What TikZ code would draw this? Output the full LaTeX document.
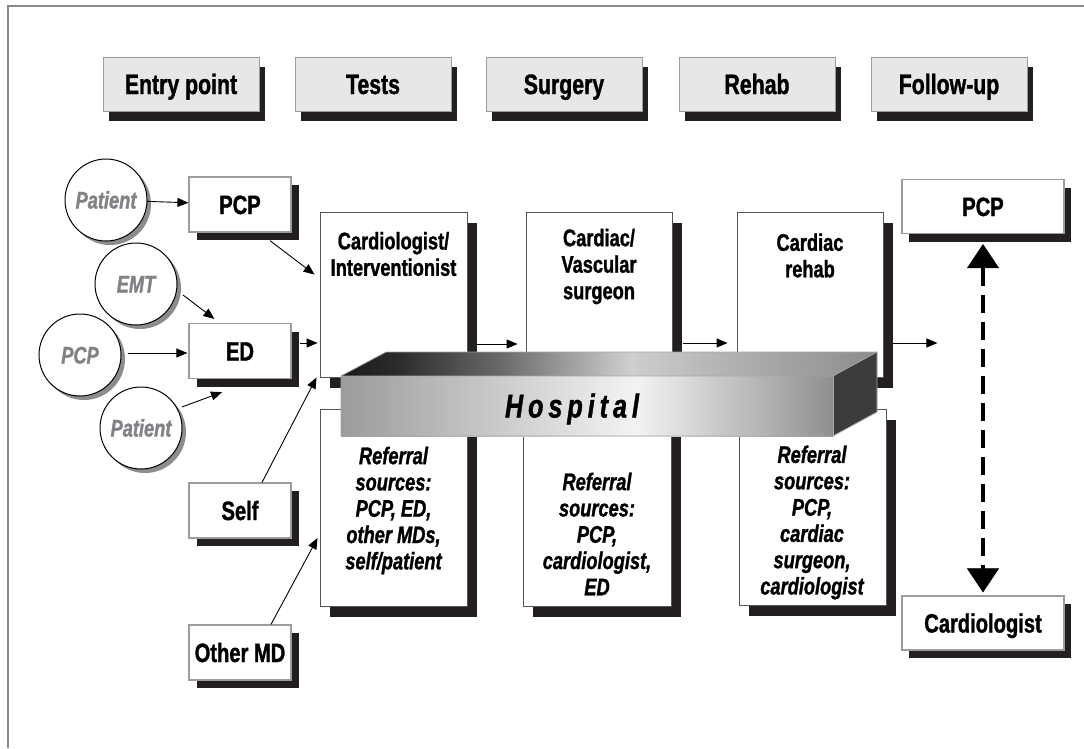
\documentclass[tikz,border=0pt]{standalone}
\usepackage{fontspec}
\setmainfont{Liberation Sans}[FakeStretch=0.76, BoldFeatures={FakeBold=1.2}, BoldItalicFeatures={FakeBold=1.2}]
\usetikzlibrary{arrows.meta,shadows,calc}
\definecolor{shadowc}{HTML}{231F20}
\definecolor{hdrfill}{HTML}{E6E7E8}
\definecolor{bordgray}{HTML}{9C9C9C}
\definecolor{boxline}{HTML}{555555}
\definecolor{txtgray}{HTML}{808285}
\definecolor{circshadow}{HTML}{8C8C8C}
\definecolor{framec}{HTML}{8A8A8A}
\definecolor{frA}{HTML}{9B9B9B}
\definecolor{frB}{HTML}{C8C8C8}
\definecolor{frC}{HTML}{F3F3F3}
\definecolor{frD}{HTML}{8F8F8F}
\definecolor{tpA}{HTML}{1A1A1A}
\definecolor{tpB}{HTML}{2A2A2A}
\definecolor{tpC}{HTML}{6A6A6A}
\definecolor{tpD}{HTML}{CFCFCF}
\definecolor{tpE}{HTML}{B5B5B5}
\definecolor{tpF}{HTML}{8C8C8C}
\definecolor{sideC}{HTML}{3C3C3C}
\pgfdeclarehorizontalshading{hfront}{100bp}{color(0bp)=(frA); color(25bp)=(frA); color(40bp)=(frB); color(55bp)=(frC); color(75bp)=(frD); color(100bp)=(frD)}
\pgfdeclarehorizontalshading{htop}{100bp}{color(0bp)=(tpA); color(25bp)=(tpA); color(30bp)=(tpB); color(40bp)=(tpC); color(52bp)=(tpD); color(60bp)=(tpE); color(75bp)=(tpF); color(100bp)=(tpF)}
\begin{document}
\begin{tikzpicture}[x=1pt,y=1pt,
  hdrbox/.style={draw=bordgray, line width=1pt, fill=hdrfill, minimum width=156pt, minimum height=54pt, inner sep=0pt,
    text height=20pt, text depth=0pt,
    font=\bfseries\fontsize{28}{32}\selectfont,
    general shadow={fill=shadowc, shadow xshift=6pt, shadow yshift=-10pt}},
  lbox/.style={draw=bordgray, line width=1.2pt, fill=white, minimum width=102pt, minimum height=55pt, inner sep=0pt,
    text height=19pt, text depth=0pt,
    font=\bfseries\fontsize{26.5}{30}\selectfont,
    general shadow={fill=shadowc, shadow xshift=8pt, shadow yshift=-8pt}},
  rbox/.style={draw=bordgray, line width=1.2pt, fill=white, minimum width=162pt, minimum height=54pt, inner sep=0pt,
    text height=19pt, text depth=0pt,
    font=\bfseries\fontsize{26.5}{30}\selectfont,
    general shadow={fill=shadowc, shadow xshift=7pt, shadow yshift=-8pt}},
  circ/.style={circle, draw=black, line width=1pt, fill=white, minimum size=82pt, inner sep=0pt, text=txtgray,
    text height=17pt, text depth=0pt,
    font=\bfseries\itshape\fontsize{24}{28}\selectfont,
    general shadow={fill=circshadow, shadow xshift=4pt, shadow yshift=-4pt}},
  ibox/.style={draw=boxline, line width=0.9pt, fill=white, inner sep=0pt,
    general shadow={fill=shadowc, shadow xshift=10pt, shadow yshift=-11pt}},
  itext/.style={align=center, inner sep=0pt, font=\bfseries\fontsize{24}{26.5}\selectfont},
  rtext/.style={align=center, inner sep=0pt, font=\bfseries\itshape\fontsize{24}{26.3}\selectfont},
  arr/.style={line width=0.9pt, -{Triangle[length=11pt,width=9pt]}},
  darr/.style={line width=4pt, dash pattern=on 18pt off 9pt,
    {Triangle[length=24pt,width=32pt,line width=0.5pt]}-{Triangle[length=24pt,width=32pt,line width=0.5pt]}},
  hedge/.style={draw=gray!70, line width=0.8pt, line join=round}
]
\useasboundingbox (0,0) rectangle (1084,-748);
% frame
\draw[framec, line width=1.2pt] (8,-748) -- (8,-6) -- (1084,-6);

% header row
\node[hdrbox] (h1) at (181,-84) {Entry point};
\node[hdrbox] (h2) at (373,-84) {Tests};
\node[hdrbox] (h3) at (564,-84) {Surgery};
\node[hdrbox] (h4) at (757,-84) {Rehab};
\node[hdrbox] (h5) at (949,-84) {Follow-up};

% entry circles
\node[circ] (c1) at (106,-200) {Patient};
\node[circ] (c2) at (136,-284) {EMT};
\node[circ] (c3) at (80,-355) {PCP};
\node[circ] (c4) at (141,-428) {Patient};

% entry boxes
\node[lbox] (pcpL) at (240,-204.5) {PCP};
\node[lbox] (ed) at (240,-351) {ED};
\node[lbox] (self) at (240,-510.5) {Self};
\node[lbox] (omd) at (240,-652.5) {Other MD};

% follow-up boxes
\node[rbox] (pcpR) at (983,-206.5) {PCP};
\node[rbox] (cardR) at (983,-623) {Cardiologist};

% upper stage boxes
\node[ibox, minimum width=147pt, minimum height=165pt] (cardio) at (393.5,-294.5) {};
\node[ibox, minimum width=146pt, minimum height=165pt] (cardiac) at (599,-294.5) {};
\node[ibox, minimum width=146pt, minimum height=165pt] (rehab) at (810,-294.5) {};
\node[itext] (cardioT) at (393.5,-254) {Cardiologist/\\Interventionist};
\node[itext] (cardiacT) at (599,-266.5) {Cardiac/\\Vascular\\surgeon};
\node[itext] (rehabT) at (810,-255.5) {Cardiac\\rehab};

% referral boxes
\node[ibox, minimum width=147pt, minimum height=197pt] (ref1) at (393.5,-507.5) {};
\node[ibox, minimum width=148pt, minimum height=197pt] (ref2) at (597,-507.5) {};
\node[ibox, minimum width=147pt, minimum height=196pt] (ref3) at (812.5,-507) {};
\node[rtext] (ref1T) at (393.5,-510.5) {Referral\\sources:\\PCP, ED,\\other MDs,\\self/patient};
\node[rtext] (ref2T) at (597,-534) {Referral\\sources:\\PCP,\\cardiologist,\\ED};
\node[rtext] (ref3T) at (812,-522.5) {Referral\\sources:\\PCP,\\cardiac\\surgeon,\\cardiologist};

% hospital block
\shade[shading=htop] (341,-376) -- (386,-352) -- (877,-352) -- (833,-376) -- cycle;
\fill[sideC] (833,-376) -- (877,-352) -- (877,-412) -- (833,-436) -- cycle;
\shade[shading=hfront] (341,-376) rectangle (833,-436);
\draw[hedge] (341,-376) -- (386,-352) -- (877,-352) -- (877,-412) -- (833,-436) -- (341,-436) -- cycle;
\draw[hedge] (341,-376) -- (833,-376) -- (877,-352);
\draw[hedge] (833,-376) -- (833,-436);
\node[font=\bfseries\itshape\fontsize{33}{36}\selectfont, inner sep=0pt, text height=23pt, text depth=0pt] (hosp) at (572,-406)
  {H\hspace{5pt}o\hspace{5pt}s\hspace{5pt}p\hspace{5pt}i\hspace{5pt}t\hspace{5pt}a\hspace{5pt}l};

% connectors: entry points
\draw[arr] (c1) -- (pcpL);
\draw[arr] ($(c2.center)+(47,-11)$) -- ($(ed.north west)+(26,4)$);
\draw[arr] ($(c3.east)+(6,2)$) -- ($(ed.west)+(-1,-2)$);
\draw[arr] ($(c4.center)+(41,21)$) -- ($(ed.south)+(-18,-13)$);
\draw[arr] ($(pcpL.south)+(30,-8)$) -- ($(cardio.north west)+(-5,-63)$);
\coordinate (edout) at ($(ed.east)+(8,8)$);
\draw[arr] (edout) -- ($(edout -| cardio.west)+(-2,0)$);
\draw[arr] ($(self.north)+(22,0)$) -- ($(cardio.south west)+(-3,0)$);
\draw[arr] ($(omd.north)+(31,0)$) -- ($(ref1.west)+(-2,-30.5)$);

% connectors: stages
\coordinate (s1) at ($(cardio.east)+(10,-49.5)$);
\draw[arr] (s1) -- ($(s1 -| cardiac.west)+(-8,0)$);
\coordinate (s2) at ($(cardiac.east)+(11,-48.5)$);
\draw[arr] (s2) -- ($(s2 -| rehab.west)+(-9,0)$);
\coordinate (s3) at ($(rehab.east)+(10,-48.5)$);
\coordinate (s3end) at ($(s3)+(44,0)$);
\draw[arr] (s3) -- (s3end);

% follow-up dashed double arrow
\draw[darr] ($(pcpR.south)+(0,-10)$) -- ($(cardR.north)+(0,3)$);
\end{tikzpicture}
\end{document}
